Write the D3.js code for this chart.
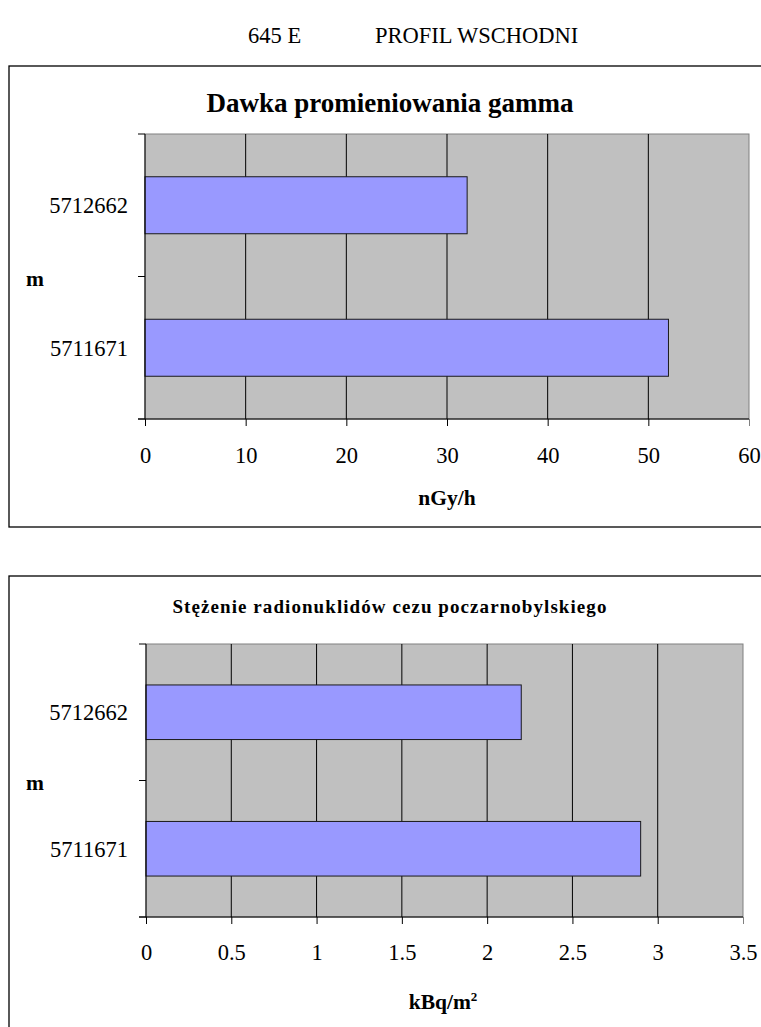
<!DOCTYPE html>
<html>
<head>
<meta charset="utf-8">
<script src="https://cdn.jsdelivr.net/npm/d3@7"></script>
<style>
  html, body { margin: 0; padding: 0; background: #fff; }
  svg { display: block; }
  text { font-family: "Liberation Serif", "Times New Roman", serif; fill: #000; }
</style>
</head>
<body>
<svg id="chart" width="761" height="1027"></svg>
<script>
// ---- data ----
const headerLeft = "645 E";
const headerRight = "PROFIL WSCHODNI";
const categories = ["5712662", "5711671"];
const gammaValues = [32, 52];
const gammaTicks = [0, 10, 20, 30, 40, 50, 60];
const gammaTitle = "Dawka promieniowania gamma";
const gammaUnit = "nGy/h";
const cesiumValues = [2.2, 2.9];
const cesiumTicks = [0, 0.5, 1, 1.5, 2, 2.5, 3, 3.5];
const cesiumTitle = "Stężenie radionuklidów cezu poczarnobylskiego";
const axisLabelY = "m";

const svg = d3.select("#chart");

// header
svg.append("text").attr("x", 248).attr("y", 43).attr("font-size", 22.5).text(headerLeft);
svg.append("text").attr("x", 375).attr("y", 43).attr("font-size", 22.5).text(headerRight);

function drawChart(cfg) {
  const g = svg.append("g");
  // frame
  g.append("rect")
    .attr("x", cfg.frame.x).attr("y", cfg.frame.y)
    .attr("width", cfg.frame.w).attr("height", cfg.frame.h)
    .attr("fill", "none").attr("stroke", "#000").attr("stroke-width", 1.3);

  const x = d3.scaleLinear().domain([0, d3.max(cfg.ticks)]).range([cfg.plot.x0, cfg.plot.x1]);
  const y = d3.scaleBand().domain(categories).range([cfg.plot.y0, cfg.plot.y1])
    .paddingInner(0.6).paddingOuter(0.3);

  // plot background
  g.append("rect")
    .attr("x", cfg.plot.x0).attr("y", cfg.plot.y0)
    .attr("width", cfg.plot.x1 - cfg.plot.x0).attr("height", cfg.plot.y1 - cfg.plot.y0)
    .attr("fill", "#c0c0c0").attr("stroke", "#808080").attr("stroke-width", 1);

  // gridlines
  g.selectAll(".grid").data(cfg.ticks.slice(1, -1)).join("line")
    .attr("x1", d => x(d)).attr("x2", d => x(d))
    .attr("y1", cfg.plot.y0).attr("y2", cfg.plot.y1)
    .attr("stroke", "#000").attr("stroke-width", 1);

  // bars
  g.selectAll(".bar").data(cfg.values).join("rect")
    .attr("x", x(0)).attr("y", (d, i) => y(categories[i]))
    .attr("width", d => x(d) - x(0)).attr("height", y.bandwidth())
    .attr("fill", "#9999ff").attr("stroke", "#1a1a1a").attr("stroke-width", 1);

  // x axis
  const xAxis = d3.axisBottom(x).tickValues(cfg.ticks).tickSize(7).tickFormat(d => String(d));
  const xa = g.append("g").attr("transform", `translate(0,${cfg.plot.y1})`).call(xAxis);
  xa.select(".domain").attr("stroke", "#000").attr("d", `M${cfg.plot.x0 - 7},0H${cfg.plot.x1}`);
  xa.selectAll(".tick line").attr("stroke", "#000");
  xa.selectAll(".tick text").attr("font-family", "Liberation Serif").attr("font-size", 22.5)
    .attr("y", cfg.xLabelDy).attr("dy", "0.35em");
  xa.selectAll(".tick").filter(d => d === d3.max(cfg.ticks)).select("line").attr("stroke", "#808080");

  // y axis: ticks at band boundaries
  const bounds = [cfg.plot.y0, (cfg.plot.y0 + cfg.plot.y1) / 2, cfg.plot.y1];
  g.append("line").attr("x1", cfg.plot.x0).attr("x2", cfg.plot.x0)
    .attr("y1", cfg.plot.y0).attr("y2", cfg.plot.y1).attr("stroke", "#000");
  g.selectAll(".ytick").data(bounds).join("line")
    .attr("x1", cfg.plot.x0 - 7).attr("x2", cfg.plot.x0)
    .attr("y1", d => d).attr("y2", d => d).attr("stroke", "#000");
  g.selectAll(".ylab").data(categories).join("text")
    .attr("x", 128).attr("y", d => y(d) + y.bandwidth() / 2).attr("dy", "0.35em")
    .attr("text-anchor", "end").attr("font-size", 22.5).text(d => d);

  // axis title m
  g.append("text").attr("x", 26).attr("y", (cfg.plot.y0 + cfg.plot.y1) / 2 + 2).attr("dy", "0.35em")
    .attr("font-size", 21.5).attr("font-weight", "bold").text(axisLabelY);

  // chart title
  g.append("text").attr("x", cfg.titleX).attr("y", cfg.titleY).attr("dy", "0.35em")
    .attr("text-anchor", "middle").attr("font-size", cfg.titleSize).attr("font-weight", "bold")
    .attr("letter-spacing", cfg.titleSpacing).text(cfg.title);

  // unit
  const u = g.append("text").attr("x", cfg.unitX).attr("y", cfg.unitY).attr("dy", "0.35em")
    .attr("text-anchor", "middle").attr("font-size", 21.5).attr("font-weight", "bold");
  u.append("tspan").text(cfg.unit);
  if (cfg.unitSup) u.append("tspan").attr("font-size", 13).attr("dy", "-0.6em").text(cfg.unitSup);
}

drawChart({
  frame: { x: 9, y: 66, w: 800, h: 461 },
  plot: { x0: 145, x1: 749, y0: 134, y1: 419 },
  values: gammaValues, ticks: gammaTicks,
  title: gammaTitle, titleX: 390, titleY: 103, titleSize: 27, titleSpacing: 0,
  unit: gammaUnit, unitX: 447, unitY: 497,
  xLabelDy: 36
});

drawChart({
  frame: { x: 9, y: 576, w: 800, h: 500 },
  plot: { x0: 146, x1: 743, y0: 644, y1: 917 },
  values: cesiumValues, ticks: cesiumTicks,
  title: cesiumTitle, titleX: 390, titleY: 606, titleSize: 19, titleSpacing: 1.07,
  unit: "kBq/m", unitSup: "2", unitX: 443, unitY: 1001,
  xLabelDy: 35
});
</script>
</body>
</html>
